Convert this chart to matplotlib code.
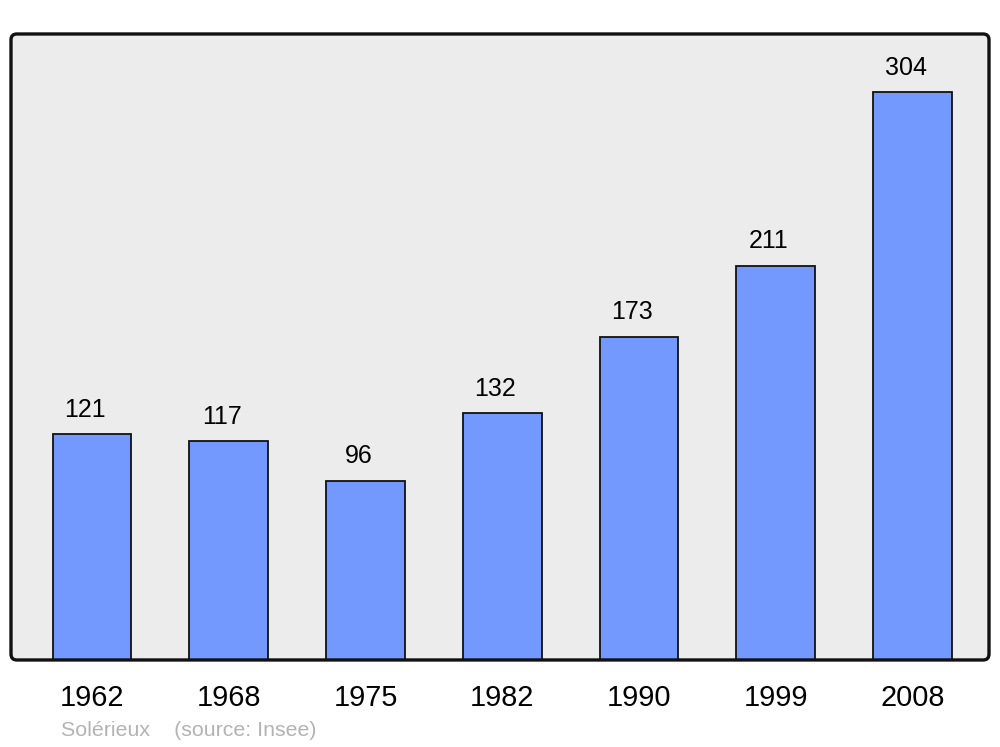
import matplotlib
matplotlib.use("Agg")
import matplotlib.pyplot as plt
from matplotlib.patches import FancyBboxPatch

years = ["1962", "1968", "1975", "1982", "1990", "1999", "2008"]
population = [121, 117, 96, 132, 173, 211, 304]
footer = "Solérieux    (source: Insee)"

plt.rcParams["font.family"] = ["Liberation Sans", "DejaVu Sans"]

fig = plt.figure(figsize=(10, 7.47), dpi=100)
ax = fig.add_axes([0.011, 0.1165, 0.978, 0.838])
ax.patch.set_visible(False)
for s in ax.spines.values():
    s.set_visible(False)

# rounded frame
w_px, h_px = 978, 626
frame_kw = dict(boxstyle="round,pad=0,rounding_size=0.006",
                mutation_aspect=w_px / h_px, transform=ax.transAxes, clip_on=False)
ax.add_patch(FancyBboxPatch((0, 0), 1, 1, facecolor="#ececec", edgecolor="none",
                            zorder=0, **frame_kw))
ax.add_patch(FancyBboxPatch((0, 0), 1, 1, facecolor="none", edgecolor="#111111",
                            linewidth=2.4, zorder=5, **frame_kw))

x = range(len(years))
ax.bar(x, population, width=0.575, color="#7399ff", edgecolor="#111111",
       linewidth=1.3, zorder=2)
for xi, v in zip(x, population):
    ax.text(xi - 0.05, v + 13, str(v), ha="center", va="center", fontsize=18,
            color="black", zorder=3)

ax.set_xlim(-0.592, 6.559)
ax.set_ylim(0, 335)
ax.set_yticks([])
ax.set_xticks(list(x))
ax.set_xticklabels(years, fontsize=20.8)
ax.tick_params(axis="x", length=0, pad=17.5)

fig.text(0.061, 1 - 730 / 747, footer, fontsize=15.4, color="#b3b3b3",
         ha="left", va="center")

fig.savefig("out.png", dpi=100)
